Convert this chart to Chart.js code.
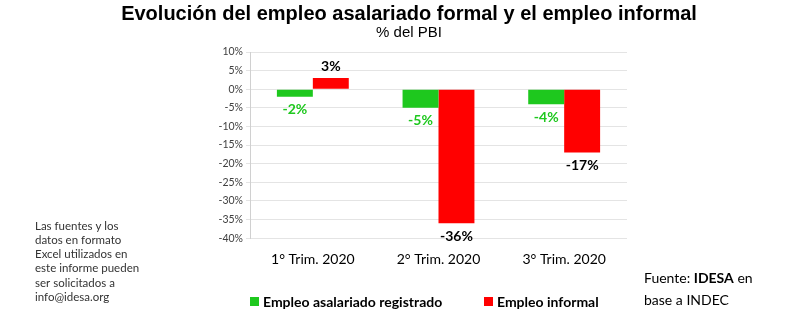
<!DOCTYPE html>
<html>
<head>
<meta charset="utf-8">
<script src="https://cdn.jsdelivr.net/npm/chart.js@4.4.1/dist/chart.umd.min.js"></script>
<style>
  html, body { margin: 0; padding: 0; background: #fff; }
  #wrap { width: 806px; height: 325px; position: relative; }
</style>
</head>
<body>
<div id="wrap"><canvas id="chart"></canvas></div>
<script>
const categories = ['1° Trim. 2020', '2° Trim. 2020', '3° Trim. 2020'];
const seriesNames = ['Empleo asalariado registrado', 'Empleo informal'];
const formalValues = [-2, -5, -4];
const informalValues = [3, -36, -17];

const titleText = 'Evolución del empleo asalariado formal y el empleo informal';
const subtitleText = '% del PBI';
const noteLines = ['Las fuentes y los', 'datos en formato', 'Excel utilizados en', 'este informe pueden', 'ser solicitados a', 'info@idesa.org'];

const GREEN = '#1ec81e';
const RED = '#ff0000';
const FONT = 'Lato, "Open Sans", sans-serif';

// titles, legend, side notes and value labels drawn on the canvas
const extras = {
  id: 'extras',
  afterDatasetsDraw(chart) {
    const ctx = chart.ctx;
    ctx.save();
    ctx.fillStyle = '#000';
    ctx.textAlign = 'center';
    ctx.textBaseline = 'middle';
    ctx.font = 'bold 20px Arial, "Liberation Sans", sans-serif';
    ctx.fillText(titleText, 409, 14);
    ctx.font = '15px Arial, "Liberation Sans", sans-serif';
    ctx.fillText(subtitleText, 409, 33);

    // value labels
    ctx.font = 'bold 14px ' + FONT;
    chart.data.datasets.forEach((ds, i) => {
      const meta = chart.getDatasetMeta(i);
      meta.data.forEach((bar, j) => {
        const v = ds.data[j];
        const y = v < 0 ? bar.y + 13 : bar.y - 12;
        ctx.fillStyle = i === 0 ? GREEN : '#000';
        ctx.fillText(v + '%', bar.x, y);
      });
    });

    // legend
    ctx.textAlign = 'left';
    ctx.font = 'bold 14px ' + FONT;
    const legendX = [250, 484];
    chart.data.datasets.forEach((ds, i) => {
      ctx.fillStyle = ds.backgroundColor;
      ctx.fillRect(legendX[i], 297, 9, 9);
      ctx.fillStyle = '#000';
      ctx.fillText(ds.label, legendX[i] + 13, 302);
    });

    // note on the left
    ctx.fillStyle = '#333';
    ctx.font = '11.5px ' + FONT;
    noteLines.forEach((line, k) => ctx.fillText(line, 35, 226 + k * 14.2));

    // source
    ctx.fillStyle = '#000';
    ctx.font = '14px ' + FONT;
    let x = 644;
    ctx.fillText('Fuente: ', x, 278);
    x += ctx.measureText('Fuente: ').width;
    ctx.font = 'bold 14px ' + FONT;
    ctx.fillText('IDESA', x, 278);
    x += ctx.measureText('IDESA').width;
    ctx.font = '14px ' + FONT;
    ctx.fillText(' en', x, 278);
    ctx.fillText('base a INDEC', 644, 300);
    ctx.restore();
  }
};

new Chart(document.getElementById('chart'), {
  type: 'bar',
  data: {
    labels: categories,
    datasets: [
      { label: seriesNames[0], data: formalValues, backgroundColor: GREEN },
      { label: seriesNames[1], data: informalValues, backgroundColor: RED }
    ]
  },
  options: {
    responsive: true,
    maintainAspectRatio: false,
    animation: false,
    layout: { padding: { left: 215, right: 179, top: 52, bottom: 52 } },
    datasets: { bar: { categoryPercentage: 0.572, barPercentage: 1 } },
    scales: {
      x: {
        grid: { display: false },
        border: { display: false },
        ticks: { color: '#000', font: { family: FONT, size: 14 }, padding: 5 }
      },
      y: {
        min: -40,
        max: 10,
        afterFit(scale) { scale.width = 35; },
        grid: { color: '#e4e4e4', tickLength: 4 },
        border: { color: '#d0d0d0' },
        ticks: {
          stepSize: 5,
          autoSkip: false,
          color: '#404040',
          font: { family: FONT, size: 10.5 },
          padding: 3,
          callback: v => v + '%'
        }
      }
    },
    plugins: {
      legend: { display: false },
      tooltip: { enabled: false }
    }
  },
  plugins: [extras]
});
</script>
</body>
</html>
